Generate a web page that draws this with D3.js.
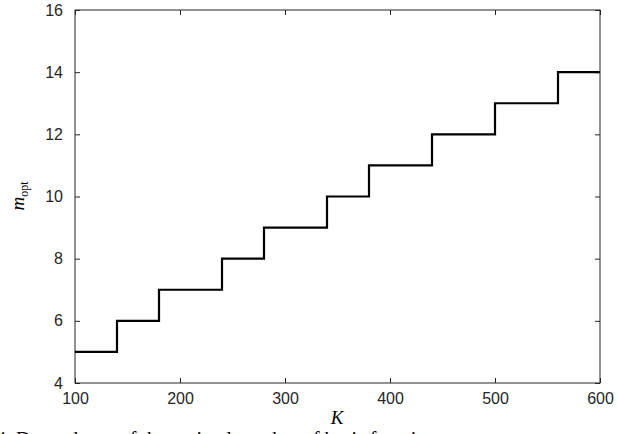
<!DOCTYPE html>
<html><head><meta charset="utf-8">
<script src="https://cdn.jsdelivr.net/npm/d3@7"></script>
<style>body{margin:0;background:#fff;overflow:hidden}</style></head>
<body><svg id="c" width="618" height="434"></svg>
<script>
// step edges (K) and m_opt values on each step
var kEdges = [100, 140, 180, 240, 280, 340, 380, 440, 500, 560, 600];
var mOpt = [5, 6, 7, 8, 9, 10, 11, 12, 13, 14, 14];
var xTicks = [100, 200, 300, 400, 500, 600];
var yTicks = [4, 6, 8, 10, 12, 14, 16];

var svg = d3.select("#c");
var x = d3.scaleLinear().domain([100, 600]).range([75, 600]);
var y = d3.scaleLinear().domain([4, 16]).range([383, 10]);
var font = "Liberation Sans, Arial, sans-serif";

svg.append("rect").attr("x", 75).attr("y", 10).attr("width", 525).attr("height", 373)
    .attr("fill", "none").attr("stroke", "#262626").attr("stroke-width", 1);

svg.append("g").attr("transform", "translate(0,383)")
    .call(d3.axisBottom(x).tickValues(xTicks).tickSize(-5).tickPadding(10));
svg.append("g").attr("transform", "translate(75,0)")
    .call(d3.axisLeft(y).tickValues(yTicks).tickSize(-5).tickPadding(12));
svg.append("g").attr("transform", "translate(600,0)")
    .call(d3.axisRight(y).tickValues(yTicks).tickSize(-5).tickFormat(""));
svg.append("g").attr("transform", "translate(0,10)")
    .call(d3.axisTop(x).tickValues(xTicks).tickSize(-5).tickFormat(""));
svg.selectAll(".domain").remove();
svg.selectAll(".tick line").attr("stroke", "#262626");
svg.selectAll(".tick text").style("font-family", font).style("font-size", "16px").attr("fill", "#262626");

var pts = kEdges.map(function(k, i){ return [k, mOpt[i]]; });
svg.append("path").datum(pts)
    .attr("d", d3.line().x(function(d){ return x(d[0]); }).y(function(d){ return y(d[1]); }).curve(d3.curveStepAfter))
    .attr("fill", "none").attr("stroke", "#000").attr("stroke-width", 2.2);

svg.append("text").attr("x", 337).attr("y", 424).attr("text-anchor", "middle")
    .attr("font-family", "Liberation Serif, serif").attr("font-style", "italic").attr("font-size", 19).text("K");
var yl = svg.append("text").attr("transform", "translate(24,196) rotate(-90)").attr("text-anchor", "middle")
    .attr("font-family", "Liberation Serif, serif").attr("font-size", 19);
yl.append("tspan").attr("font-style", "italic").text("m");
yl.append("tspan").attr("font-size", 12).attr("dy", 4).text("opt");

svg.append("text").attr("x", -4).attr("y", 446)
    .attr("font-family", "Liberation Serif, serif").attr("font-size", 20)
    .text("4.   Dependence of the optimal number of basis functions m   on");
</script></body></html>
